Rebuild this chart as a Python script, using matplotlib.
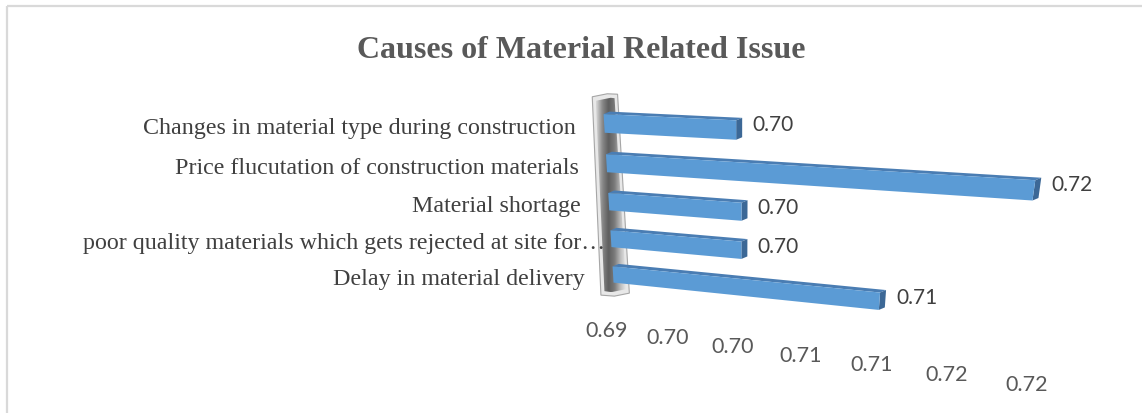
import numpy as np
import matplotlib.pyplot as plt
from matplotlib.transforms import Transform
from matplotlib.patches import Polygon
from matplotlib.colors import LinearSegmentedColormap

# categories listed bottom-to-top, as in the source table
categories = [
    "Delay in material delivery",
    "poor quality materials which gets rejected at site for\u2026",
    "Material shortage",
    "Price flucutation of construction materials",
    "Changes in material type during construction",
]
values = [0.7105, 0.7003, 0.7003, 0.7198, 0.6999]
tick_values = [0.69, 0.695, 0.70, 0.705, 0.71, 0.715, 0.72]
tick_labels = ["0.69", "0.70", "0.70", "0.71", "0.71", "0.72", "0.72"]
title = "Causes of Material Related Issue"

VMIN, VMAX = tick_values[0], tick_values[-1]
BAR_H = 0.46
DEPTH = np.array([6.0, -2.5])        # screen offset of the bar back faces, px
WALL_DEPTH = np.array([15.0, -3.0])  # the wall runs deeper than the bars

FRONT = "#5b9bd5"
TOP = "#4a7db3"
CAP = "#3c6896"
TEXT = "#404040"
SERIF = ["Liberation Serif", "DejaVu Serif"]
SANS = ["Lato", "DejaVu Sans"]


def homography(src, dst):
    a, b = [], []
    for (x, y), (u, v) in zip(src, dst):
        a.append([x, y, 1, 0, 0, 0, -u * x, -u * y])
        b.append(u)
        a.append([0, 0, 0, x, y, 1, -v * x, -v * y])
        b.append(v)
    h = np.linalg.solve(np.array(a, float), np.array(b, float))
    return np.append(h, 1.0).reshape(3, 3)


class Perspective(Transform):
    """Projective map from (value, row) onto the tilted chart plane."""
    input_dims = output_dims = 2

    def __init__(self, src, dst):
        super().__init__()
        self.H = homography(src, dst)

    def transform_non_affine(self, values):
        xy = np.asarray(values, float).reshape(-1, 2)
        p = np.column_stack([xy, np.ones(len(xy))]) @ self.H.T
        return p[:, :2] / p[:, 2:]


fig = plt.figure(figsize=(11.42, 4.13), dpi=100)
ax = fig.add_axes([0, 0, 1, 1])
ax.set_xlim(0, 1142)
ax.set_ylim(413, 0)
ax.set_autoscale_on(False)
ax.axis("off")

# front plane of the bars and the strip the value labels sit on
plane = Perspective(
    [(VMIN, -0.5), (VMAX, -0.5), (VMIN, 4.5), (VMAX, 4.5)],
    [(614.1, 292), (1016.8, 334.7), (602.9, 103), (1046.8, 122.3)],
)
strip = Perspective(
    [(VMIN, 0), (VMAX, 0), (VMIN, 1), (VMAX, 1)],
    [(614, 292), (1016.8, 338), (606.5, 330.5), (1026.3, 385)],
)

# chart frame
ax.plot([7, 7], [413, 5.5], color="#d9d9d9", lw=1.6, solid_capstyle="butt")
ax.plot([7, 1142], [5.5, 5.5], color="#d9d9d9", lw=1.6, solid_capstyle="butt")

ax.text(581.5, 50, title, ha="center", va="center", fontsize=23,
        fontweight="bold", color="#595959", family=SERIF)

# back wall: thin slab at the axis minimum
fl, fr, br_, bl = plane.transform([(VMIN - 0.0008, 4.64), (VMIN, 4.64),
                                   (VMIN, -0.62), (VMIN - 0.0008, -0.62)])
bl = bl + np.array([-4.0, 0.0])
wall = np.array([fl, fl + WALL_DEPTH, fr + WALL_DEPTH, br_ + WALL_DEPTH, br_, bl])
ax.add_patch(Polygon(wall, closed=True, fc="#e8e8e8", ec="#a6a6a6",
                     lw=0.8, zorder=1))
inner = wall.copy()
inner[:, 0] = inner[:, 0] + np.array([3.5, 3.5, -3, -3, -3, 3.5])
inner[:, 1] = inner[:, 1] + np.array([4, 4, 4, -4, -4, -4])
clip = Polygon(inner, closed=True, fc="none", ec="none")
ax.add_patch(clip)
wall_cmap = LinearSegmentedColormap.from_list(
    "wall", ["#d8d8d8", "#8a8a8a", "#5e5e5e", "#7a7a7a", "#bdbdbd", "#eeeeee"])
img = ax.imshow(np.linspace(0, 1, 64)[None, :], cmap=wall_cmap,
                extent=(inner[:, 0].min(), inner[:, 0].max(),
                        inner[:, 1].max(), inner[:, 1].min()),
                aspect="auto", interpolation="bicubic", zorder=1.5)
img.set_clip_path(clip)
ax.set_xlim(0, 1142)
ax.set_ylim(413, 0)

rows = np.arange(len(categories))

# front faces
ax.barh(rows, np.subtract(values, VMIN), left=VMIN, height=BAR_H,
        color=FRONT, transform=plane + ax.transData, zorder=3)

# top faces and end caps
for r, v in zip(rows, values):
    tl, tr, br = plane.transform([(VMIN, r + BAR_H / 2), (v, r + BAR_H / 2),
                                  (v, r - BAR_H / 2)])
    ax.add_patch(Polygon([tl, tr, tr + DEPTH, tl + DEPTH], closed=True,
                         fc=TOP, ec="none", zorder=2.5))
    ax.add_patch(Polygon([tr, br, br + DEPTH, tr + DEPTH], closed=True,
                         fc=CAP, ec="none", zorder=2.5))
    ax.text(tr[0] + 16, tr[1] + 5, f"{v:.2f}", ha="left", va="center",
            fontsize=15, color=TEXT, family=SANS)

# category labels; a clipped label lets its ellipsis run past the margin
for r, name in zip(rows, categories):
    x, y = plane.transform((VMIN, r))
    shift = 22 if name.endswith("\u2026") else 0
    ax.text(x - 28 + shift, y + 5, name, ha="right", va="center",
            fontsize=17.3, color=TEXT, family=SERIF)

# value axis labels
for t, lab in zip(tick_values, tick_labels):
    x, y = strip.transform((t, 1))
    ax.text(x, y, lab, ha="center", va="center", fontsize=15.5,
            color="#595959", family=SANS)

fig.savefig("out.png", dpi=100)
